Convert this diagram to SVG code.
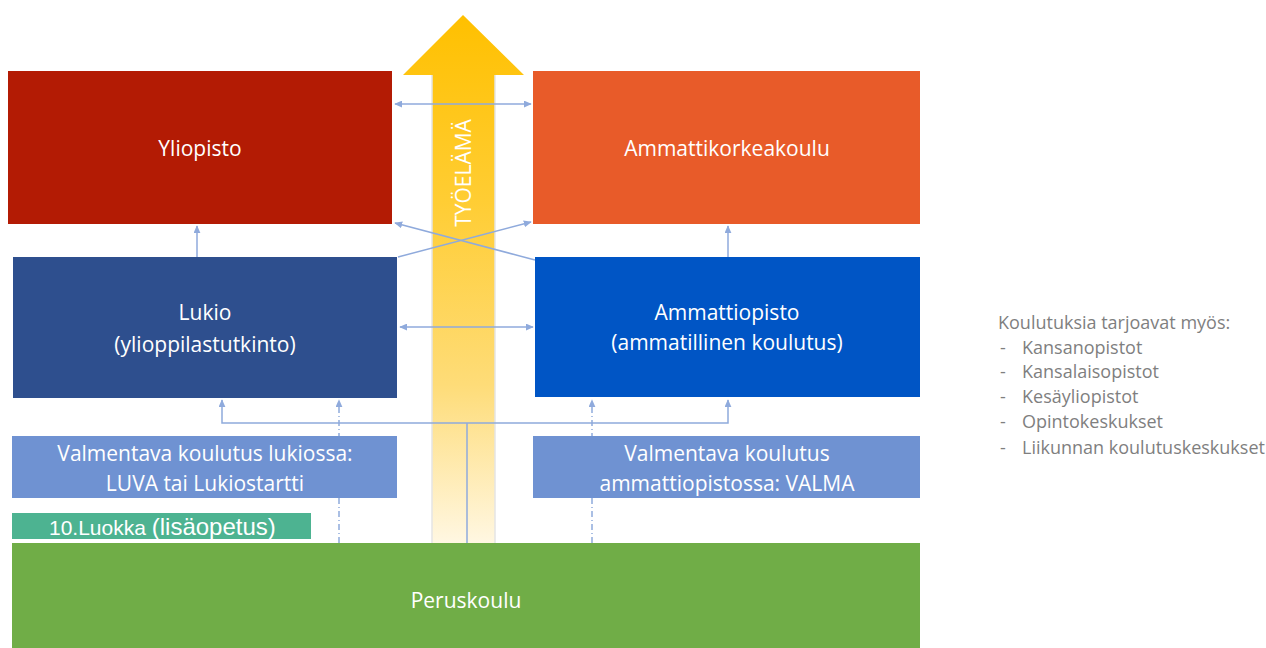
<svg xmlns="http://www.w3.org/2000/svg" width="1266" height="648" viewBox="0 0 1266 648">
<style>
.lbl{font-family:"Open Sans","Liberation Sans",sans-serif;font-size:21px;fill:#fff;text-anchor:middle;dominant-baseline:central}
.side{font-family:"Open Sans","Liberation Sans",sans-serif;font-size:18px;fill:#7f7f7f}
.con{stroke:#8faadc;stroke-width:1.5;fill:none}
.dash{stroke-dasharray:6 3 1 3}
</style>
<defs>
<linearGradient id="yg" gradientUnits="userSpaceOnUse" x1="0" y1="15" x2="0" y2="543">
<stop offset="0" stop-color="#ffc000"/>
<stop offset="0.35" stop-color="#ffcd33"/>
<stop offset="0.7" stop-color="#fedc78"/>
<stop offset="1" stop-color="#fff7e2"/>
</linearGradient>
<marker id="ah" viewBox="0 0 10 10" refX="9" refY="5" markerWidth="8" markerHeight="7" markerUnits="userSpaceOnUse" orient="auto-start-reverse" preserveAspectRatio="none">
<path d="M0,0 L10,5 L0,10 z" fill="#8faadc"/>
</marker>
</defs>
<rect width="1266" height="648" fill="#fff"/>

<g id="tyoelama">
<polygon points="463,15 524,75 495,75 495,543 432,543 432,75 403,75" fill="url(#yg)"/>
<line x1="432" y1="75" x2="432" y2="543" stroke="#e4e4e4" stroke-width="1.5"/>
<line x1="495" y1="75" x2="495" y2="543" stroke="#e4e4e4" stroke-width="1.5"/>
<text class="lbl" transform="translate(463,173) rotate(-90)">TYÖELÄMÄ</text>
</g>

<g id="connectors">
<line class="con" x1="395" y1="104" x2="531" y2="104" marker-start="url(#ah)" marker-end="url(#ah)"/>
<line class="con" x1="400" y1="327" x2="533" y2="327" marker-start="url(#ah)" marker-end="url(#ah)"/>
<line class="con" x1="197" y1="257" x2="197" y2="226" marker-end="url(#ah)"/>
<line class="con" x1="728" y1="257" x2="728" y2="226" marker-end="url(#ah)"/>
<line class="con" x1="398" y1="257" x2="531" y2="222" marker-end="url(#ah)"/>
<line class="con" x1="535" y1="260" x2="395" y2="223" marker-end="url(#ah)"/>
<polyline class="con" points="222,400 222,423 728,423 728,400" marker-start="url(#ah)" marker-end="url(#ah)"/>
<line class="con" x1="467" y1="423" x2="467" y2="543"/>
<line class="con dash" x1="339" y1="543" x2="339" y2="400" marker-end="url(#ah)"/>
<line class="con dash" x1="592" y1="543" x2="592" y2="400" marker-end="url(#ah)"/>
</g>

<g id="yliopisto">
<rect x="8" y="71" width="384" height="153" fill="#b31b04"/>
<text class="lbl" x="200" y="148">Yliopisto</text>
</g>
<g id="ammattikorkeakoulu">
<rect x="533" y="71" width="387" height="153" fill="#e85b29"/>
<text class="lbl" x="727" y="148">Ammattikorkeakoulu</text>
</g>
<g id="lukio">
<rect x="13" y="257" width="384" height="141" fill="#2e4f8e"/>
<text class="lbl" x="205" y="312">Lukio</text>
<text class="lbl" x="205" y="344">(ylioppilastutkinto)</text>
</g>
<g id="ammattiopisto">
<rect x="535" y="257" width="385" height="140" fill="#0055c5"/>
<text class="lbl" x="727" y="312">Ammattiopisto</text>
<text class="lbl" x="727" y="342">(ammatillinen koulutus)</text>
</g>
<g id="valmentava-lukio">
<rect x="12" y="436" width="385" height="62" fill="#6f92d2"/>
<text class="lbl" x="205" y="453">Valmentava koulutus lukiossa:</text>
<text class="lbl" x="205" y="483">LUVA tai Lukiostartti</text>
</g>
<g id="valmentava-ammattiopisto">
<rect x="533" y="436" width="387" height="62" fill="#6f92d2"/>
<text class="lbl" x="727" y="453">Valmentava koulutus</text>
<text class="lbl" x="727" y="483">ammattiopistossa: VALMA</text>
</g>
<g id="luokka10">
<rect x="12" y="513" width="299" height="26" fill="#4db391"/>
<text x="49" y="535" font-family="'Liberation Sans',Arial,sans-serif" fill="#fff"><tspan font-size="21">10.Luokka </tspan><tspan font-size="24">(lisäopetus)</tspan></text>
</g>
<g id="peruskoulu">
<rect x="12" y="543" width="908" height="105" fill="#70ad47"/>
<text class="lbl" x="466" y="600">Peruskoulu</text>
</g>

<g id="muut">
<text class="side" x="998" y="329">Koulutuksia tarjoavat myös:</text>
<text class="side" x="1000" y="354">-</text><text class="side" x="1022" y="354">Kansanopistot</text>
<text class="side" x="1000" y="378">-</text><text class="side" x="1022" y="378">Kansalaisopistot</text>
<text class="side" x="1000" y="403">-</text><text class="side" x="1022" y="403">Kesäyliopistot</text>
<text class="side" x="1000" y="428">-</text><text class="side" x="1022" y="428">Opintokeskukset</text>
<text class="side" x="1000" y="454">-</text><text class="side" x="1022" y="454">Liikunnan koulutuskeskukset</text>
</g>
</svg>
